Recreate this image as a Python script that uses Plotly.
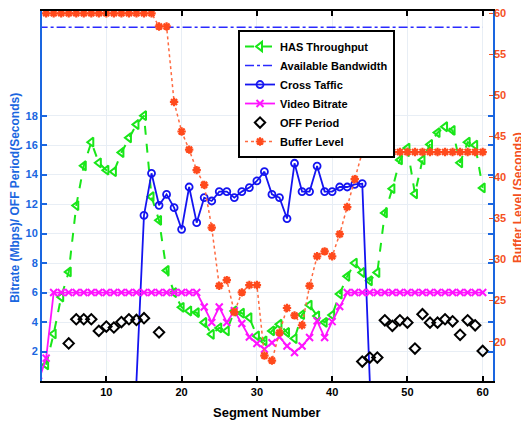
import plotly.graph_objects as go

N = None
segments = list(range(1, 61))

has_throughput = [N, 1.1, 3.2, 5.7, 7.4, 11.9, 14.6, 16.2, 14.8, 14.3,
                  14.2, 15.5, 16.5, 17.4, 18.0, 12.5, 10.9, 7.5, 6.0, 5.0,
                  4.75, 4.64, 3.97, 3.17, 3.6, 3.4, 4.75, 4.6, 4.3, 3.06,
                  2.72, 3.4, 3.85, 3.29, 2.88, 4.5, 5.15, 4.41, 3.98, 4.47,
                  5.9, 7.1, 8.0, 7.36, 6.8, 7.36, 11.4, 13.05, 15.0, 15.8,
                  12.7, 15.0, 16.05, 16.85, 17.25, 17.0, 14.8, 16.2, 16.0, 13.1]

bandwidth_x = [1, 60]
available_bandwidth = [24.0, 24.0]

cross_traffic = [N, N, N, N, N, N, N, N, N, N,
                 N, N, N, 0.0, 11.24, 14.09, 11.92, 12.66, 11.76, 10.29,
                 13.16, 10.74, 12.44, 12.21, 12.85, 12.85, 12.44, 12.85, 13.12, 13.57,
                 14.2, 12.66, 12.44, 11.02, 14.77, 12.85, 12.85, 14.58, 12.85, 12.85,
                 13.16, 13.16, 13.34, 13.39, 0.0, N, N, N, N, N,
                 N, N, N, N, N, N, N, N, N, N]

video_bitrate = [0.0, 1.55, 6.0, 6.0, 6.0, 6.0, 6.0, 6.0, 6.0, 6.0,
                 6.0, 6.0, 6.0, 6.0, 6.0, 6.0, 6.0, 6.0, 6.0, 6.0,
                 6.0, 6.0, 5.02, 3.97, 5.02, 3.97, 4.76, 3.9, 2.99, 2.54,
                 2.16, 2.6, 2.99, 2.38, 1.93, 2.38, 2.95, 4.08, 2.95, 4.03,
                 5.05, 6.0, 6.0, 6.0, 6.0, 6.0, 6.0, 6.0, 6.0, 6.0,
                 6.0, 6.0, 6.0, 6.0, 6.0, 6.0, 6.0, 6.0, 6.0, 6.0]

off_period = [N, N, N, N, 2.55, 4.19, 4.19, 4.19, 3.4, 3.69,
              3.63, 4.0, 4.19, 4.14, 4.26, N, 3.3, N, N, N,
              N, N, N, N, N, N, N, N, N, N,
              N, N, N, N, N, N, N, N, N, N,
              N, N, N, 1.32, 1.59, 1.59, 4.12, 3.74, 4.12, 3.96,
              2.2, 4.53, 3.96, 3.96, 4.19, 4.05, 3.13, 4.12, 3.78, 2.04]

buffer_level = [N, 60.0, 60.0, 60.0, 60.0, 60.0, 60.0, 60.0, 60.0, 60.0,
                60.0, 60.0, 60.0, 60.0, 60.0, 60.0, 58.4, 58.4, 49.2, 45.6,
                43.4, 40.9, 39.1, 33.9, 26.8, 27.5, 23.6, 26.0, 26.9, 26.9,
                18.3, 17.7, 21.1, 24.1, 23.2, 22.0, 26.8, 30.4, 31.0, 30.4,
                33.1, 36.4, 39.8, 43.1, 43.1, 43.1, 43.1, 43.1, 43.1, 43.1,
                43.1, 43.1, 43.1, 43.1, 43.1, 43.1, 43.1, 43.1, 43.1, 43.1]

x_ticks = [10, 20, 30, 40, 50, 60]
left_ticks = [2, 4, 6, 8, 10, 12, 14, 16, 18]
right_ticks = [20, 25, 30, 35, 40, 45, 50, 55, 60]

GREEN = '#19e619'
BLUE_AX = '#1a66e0'
BLUE = '#1414f0'
MAGENTA = '#ff14ff'
ORANGE = '#ff4a1c'
ORANGE_TXT = '#f4501e'
FONT = 'Liberation Sans, Arial, sans-serif'

fig = go.Figure()

fig.add_trace(go.Scatter(
    x=segments, y=has_throughput, name='HAS Throughput', mode='lines+markers',
    line=dict(color=GREEN, width=2, dash='dash'),
    marker=dict(symbol='triangle-left-open', size=8, color=GREEN, line=dict(width=2, color=GREEN)),
))
fig.add_trace(go.Scatter(
    x=bandwidth_x, y=available_bandwidth, name='Available Bandwidth', mode='lines',
    line=dict(color='#2a2aff', width=1.5, dash='dashdot'),
))
ct_opacity = [0 if c == 0 else 1 for c in cross_traffic]
fig.add_trace(go.Scatter(
    x=segments, y=cross_traffic, name='Cross Taffic', mode='lines+markers',
    line=dict(color=BLUE, width=1.8),
    marker=dict(symbol='circle-open', size=7, color=BLUE, opacity=ct_opacity, line=dict(width=1.8, color=BLUE)),
))
fig.add_trace(go.Scatter(
    x=segments, y=video_bitrate, name='Video Bitrate', mode='lines+markers',
    line=dict(color=MAGENTA, width=1.8),
    marker=dict(symbol='x-thin-open', size=7, color=MAGENTA, line=dict(width=2, color=MAGENTA)),
))
fig.add_trace(go.Scatter(
    x=segments, y=off_period, name='OFF Period', mode='markers',
    marker=dict(symbol='diamond-open', size=8, color='black', line=dict(width=2, color='black')),
))
fig.add_trace(go.Scatter(
    x=segments, y=buffer_level, name='Buffer Level', mode='lines+markers', yaxis='y2',
    line=dict(color='#ff6a40', width=1.5, dash='dot'),
    marker=dict(symbol='asterisk-open', size=7, color=ORANGE, line=dict(width=2.2, color=ORANGE)),
))

bold = dict(family=FONT, weight='bold')

# The page body keeps its default 8px margin, so the figure is 8px smaller
# than the window and its margins are reduced to put the plot where it belongs.
fig.update_layout(
    width=521, height=420,
    margin=dict(l=34, r=36, t=3, b=47),
    paper_bgcolor='white', plot_bgcolor='white',
    showlegend=True,
    legend=dict(
        x=0.4346, y=0.9486, xanchor='left', yanchor='top',
        bgcolor='white', bordercolor='black', borderwidth=2,
        font=dict(size=11, color='black', **bold), tracegroupgap=0,
    ),
    xaxis=dict(
        range=[1.45, 61.37], tickvals=x_ticks, ticks='inside', ticklen=5, tickwidth=2,
        tickcolor='black', showline=True, linecolor='black', linewidth=2, mirror='ticks',
        showgrid=True, gridcolor='#e8eef5', gridwidth=1, zeroline=False, automargin=False,
        tickfont=dict(size=11, color='black', **bold),
    ),
    yaxis=dict(
        range=[0, 25.1], tickvals=left_ticks, ticks='inside', ticklen=5, tickwidth=2,
        tickcolor=BLUE_AX, showline=True, linecolor=BLUE_AX, linewidth=2, mirror='ticks',
        showgrid=True, gridcolor='#e8eef5', gridwidth=1, zeroline=False, automargin=False,
        tickfont=dict(size=11, color=BLUE_AX, **bold),
    ),
    yaxis2=dict(
        overlaying='y', side='right', range=[15.21, 60.28], tickvals=right_ticks,
        ticks='inside', ticklen=4, tickwidth=1, tickcolor=ORANGE_TXT,
        showline=False, showgrid=False, zeroline=False, automargin=False,
        ticklabeloverflow='allow',
        tickfont=dict(size=11, color=ORANGE_TXT, **bold),
    ),
    annotations=[
        dict(text='Segment Number', xref='paper', yref='paper', x=0.499, y=-0.0838,
             xanchor='center', yanchor='middle', showarrow=False,
             font=dict(size=13, color='black', **bold)),
        dict(text='Bitrate (Mbps)/ OFF Period(Seconds)', xref='paper', yref='paper',
             x=-0.0599, y=0.495, xanchor='center', yanchor='middle', textangle=-90,
             showarrow=False, font=dict(size=12, color=BLUE_AX, **bold)),
        dict(text='Buffer Level (Seconds)', xref='paper', yref='paper',
             x=1.0555, y=0.495, xanchor='center', yanchor='middle', textangle=-90,
             showarrow=False, font=dict(size=12, color=ORANGE_TXT, **bold)),
    ],
)

fig.write_html('out.html')
